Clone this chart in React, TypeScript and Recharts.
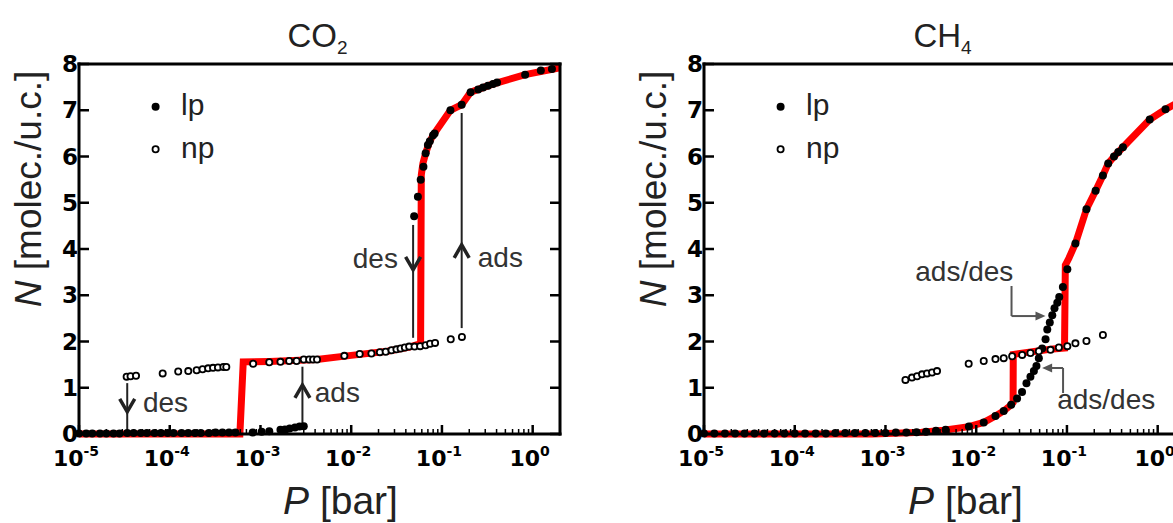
import React from 'react';
import {
  ComposedChart,
  Line,
  Scatter,
  XAxis,
  YAxis,
  Legend,
  ReferenceLine,
  ReferenceDot,
  Label,
} from 'recharts';

const FONT = '"Liberation Sans", Arial, Helvetica, sans-serif';
const TICK_FONT = '"DejaVu Sans", Verdana, sans-serif';

// axes
const xMajorTicks = [1e-5, 1e-4, 1e-3, 1e-2, 1e-1, 1];
const xExponents = ['-5', '-4', '-3', '-2', '-1', '0'];
const xMinorSteps = [2, 3, 4, 5, 6, 7, 8, 9];
const yTicks = [0, 1, 2, 3, 4, 5, 6, 7, 8];
const xDomain: [number, number] = [1e-5, 2];

// CO2 : [P (bar), N (molec./u.c.)]
const co2Lp: [number, number][] = [
  [1.0e-5, 0.01], [1.2e-5, 0.01], [1.4e-5, 0.01], [1.7e-5, 0.01], [2.0e-5, 0.01], [2.4e-5, 0.01],
  [2.8e-5, 0.01], [3.4e-5, 0.02], [4.0e-5, 0.02], [4.8e-5, 0.02], [5.6e-5, 0.02], [6.8e-5, 0.02],
  [8.0e-5, 0.02], [9.5e-5, 0.02], [1.1e-4, 0.02], [1.35e-4, 0.02], [1.6e-4, 0.02], [1.9e-4, 0.02],
  [2.2e-4, 0.02], [2.7e-4, 0.02], [3.2e-4, 0.03], [3.8e-4, 0.03], [4.5e-4, 0.03], [5.3e-4, 0.03],
  [8.2e-4, 0.03], [1.03e-3, 0.05], [1.25e-3, 0.06], [1.66e-3, 0.09], [1.86e-3, 0.1], [2.1e-3, 0.12],
  [2.4e-3, 0.14], [2.7e-3, 0.16], [3.0e-3, 0.17],
  [4.94e-2, 4.71], [5.43e-2, 5.13], [5.83e-2, 5.5], [6.25e-2, 5.78], [6.61e-2, 6.07], [7.0e-2, 6.25],
  [7.35e-2, 6.33], [7.98e-2, 6.46], [8.3e-2, 6.5], [0.124, 7.0], [0.165, 7.12], [0.207, 7.39],
  [0.251, 7.45], [0.284, 7.49], [0.322, 7.53], [0.366, 7.57], [0.405, 7.6], [0.826, 7.77],
  [1.23, 7.86], [1.63, 7.89],
];
const co2Np: [number, number][] = [
  [3.35e-5, 1.24], [3.7e-5, 1.25], [4.25e-5, 1.26], [8.36e-5, 1.31], [1.24e-4, 1.35], [1.6e-4, 1.36],
  [1.98e-4, 1.38], [2.3e-4, 1.4], [2.65e-4, 1.42], [3.0e-4, 1.43], [3.4e-4, 1.44], [3.9e-4, 1.45],
  [4.2e-4, 1.45], [8.3e-4, 1.52], [1.25e-3, 1.55], [1.66e-3, 1.56], [2.07e-3, 1.58], [2.5e-3, 1.58],
  [3.0e-3, 1.61], [3.44e-3, 1.61], [3.8e-3, 1.61], [4.2e-3, 1.61], [8.4e-3, 1.69], [1.24e-2, 1.73],
  [1.67e-2, 1.74], [2.07e-2, 1.77], [2.4e-2, 1.78], [2.78e-2, 1.81], [3.15e-2, 1.83], [3.5e-2, 1.85],
  [3.9e-2, 1.87], [4.35e-2, 1.89], [4.99e-2, 1.89], [5.75e-2, 1.9], [6.6e-2, 1.92], [7.4e-2, 1.95],
  [8.4e-2, 1.97], [0.125, 2.05], [0.166, 2.1],
];
const co2Red: [number, number][] = [
  [1e-5, 0], [5.93e-4, 0], [6.46e-4, 1.56], [1.26e-3, 1.57], [4.17e-3, 1.61], [1e-2, 1.7],
  [2.51e-2, 1.79], [4.37e-2, 1.88], [5.69e-2, 1.95], [5.82e-2, 2.0], [5.92e-2, 5.6], [6.17e-2, 5.85],
  [6.61e-2, 6.07], [7.24e-2, 6.3], [7.98e-2, 6.46], [0.124, 7.0], [0.165, 7.12], [0.207, 7.39],
  [0.355, 7.56], [0.826, 7.77], [2.0, 7.92],
];

// CH4
const ch4Lp: [number, number][] = [
  [1.0e-5, 0.01], [1.3e-5, 0.01], [1.7e-5, 0.01], [2.2e-5, 0.01], [2.8e-5, 0.01], [3.6e-5, 0.01],
  [4.6e-5, 0.01], [6.0e-5, 0.01], [7.7e-5, 0.01], [1.0e-4, 0.01], [1.3e-4, 0.01], [1.7e-4, 0.01],
  [2.2e-4, 0.01], [2.8e-4, 0.02], [3.6e-4, 0.02], [4.6e-4, 0.02], [6.0e-4, 0.02], [7.7e-4, 0.02],
  [1.0e-3, 0.02], [1.3e-3, 0.03], [1.7e-3, 0.03], [2.2e-3, 0.04], [2.8e-3, 0.05], [3.6e-3, 0.07],
  [4.6e-3, 0.09], [8.3e-3, 0.16], [1.21e-2, 0.25], [1.63e-2, 0.39], [2.01e-2, 0.5], [2.43e-2, 0.63],
  [2.82e-2, 0.77], [3.2e-2, 0.91], [3.58e-2, 1.1], [3.96e-2, 1.24], [4.32e-2, 1.36], [4.61e-2, 1.47],
  [4.9e-2, 1.64], [5.33e-2, 1.85], [5.81e-2, 2.05], [6.07e-2, 2.26], [6.47e-2, 2.41], [6.89e-2, 2.57],
  [7.29e-2, 2.72], [7.82e-2, 2.84], [8.22e-2, 2.96], [9.02e-2, 3.18], [0.101, 3.56], [0.124, 4.12],
  [0.164, 4.86], [0.207, 5.26], [0.249, 5.59], [0.285, 5.85], [0.33, 6.0], [0.368, 6.1],
  [0.414, 6.2], [0.817, 6.8], [1.22, 7.02], [1.78, 7.2],
];
const ch4Np: [number, number][] = [
  [1.66e-3, 1.17], [1.96e-3, 1.22], [2.23e-3, 1.25], [2.53e-3, 1.29], [2.87e-3, 1.31], [3.26e-3, 1.33],
  [3.7e-3, 1.36], [8.26e-3, 1.52], [1.21e-2, 1.58], [1.63e-2, 1.62], [2.01e-2, 1.64], [2.49e-2, 1.68],
  [3.21e-2, 1.71], [3.96e-2, 1.75], [4.9e-2, 1.79], [6.59e-2, 1.82], [8.15e-2, 1.87], [0.101, 1.9],
  [0.124, 1.96], [0.164, 2.01], [0.249, 2.14],
];
const ch4Red: [number, number][] = [
  [1e-5, 0], [7.1e-4, 0], [1.5e-3, 0.02], [2.5e-3, 0.04], [4.4e-3, 0.08], [8.3e-3, 0.16],
  [1.21e-2, 0.25], [1.63e-2, 0.39], [2.01e-2, 0.5], [2.43e-2, 0.63], [2.55e-2, 0.68], [2.56e-2, 1.72],
  [3.5e-2, 1.76], [5e-2, 1.8], [7e-2, 1.84], [9.4e-2, 1.86], [9.6e-2, 3.65], [0.105, 3.8],
  [0.124, 4.12], [0.164, 4.86], [0.207, 5.26], [0.249, 5.59], [0.285, 5.85], [0.33, 6.0],
  [0.414, 6.2], [0.817, 6.8], [1.22, 7.02], [2.0, 7.25],
];

// annotations
type Arrow = { p: number; from: number; to: number; head: number; up: boolean };
type Note = { p: number; n: number; text: string };
type Elbow = { p1: number; n1: number; p2: number; n2: number; p3: number; dir: 1 | -1 };

const co2Arrows: Arrow[] = [
  { p: 3.4e-5, from: 1.1, to: 0.09, head: 0.48, up: false },
  { p: 2.9e-3, from: 0.13, to: 1.455, head: 1.06, up: true },
  { p: 4.81e-2, from: 4.52, to: 2.08, head: 3.55, up: false },
  { p: 0.165, from: 2.29, to: 6.94, head: 4.09, up: true },
];
const co2Notes: Note[] = [
  { p: 5.07e-5, n: 0.476, text: 'des' },
  { p: 3.97e-3, n: 0.69, text: 'ads' },
  { p: 1.04e-2, n: 3.59, text: 'des' },
  { p: 0.248, n: 3.61, text: 'ads' },
];
const ch4Notes: Note[] = [
  { p: 2.13e-3, n: 3.31, text: 'ads/des' },
  { p: 7.8e-2, n: 0.55, text: 'ads/des' },
];
const ch4Elbows: Elbow[] = [
  { p1: 2.45e-2, n1: 3.2, p2: 2.45e-2, n2: 2.55, p3: 5.8e-2, dir: 1 },
  { p1: 9.06e-2, n1: 0.886, p2: 9.06e-2, n2: 1.427, p3: 5.33e-2, dir: -1 },
];

const legendItems = [
  { name: 'lp', filled: true },
  { name: 'np', filled: false },
];

const toPts = (arr: [number, number][]) => arr.map(([p, n]) => ({ p, n }));
const allXTicks = [
  ...xMajorTicks,
  ...xMajorTicks.slice(0, -1).flatMap((m) => xMinorSteps.map((s) => s * m)),
].sort((a, b) => a - b);
const isMajor = (v: number) => Math.abs(Math.log10(v) - Math.round(Math.log10(v))) < 1e-6;

function BottomTick(props: any) {
  const { x, y, payload } = props;
  const v = payload.value as number;
  const major = isMajor(v);
  const idx = xMajorTicks.findIndex((t) => Math.abs(t - v) / t < 1e-6);
  return (
    <g>
      <line x1={x} x2={x} y1={y} y2={y - (major ? 9 : 5)} stroke="#000" strokeWidth={major ? 2.5 : 1.5} />
      {major && (
        <text x={x - 3} y={y + 32} textAnchor="middle" fontFamily={TICK_FONT} fontWeight="bold" fontSize={22} fill="#000">
          10
          <tspan fontSize={14} dy={-10}>
            {xExponents[idx]}
          </tspan>
        </text>
      )}
    </g>
  );
}

function TopTick(props: any) {
  const { x, y, payload } = props;
  const major = isMajor(payload.value);
  return <line x1={x} x2={x} y1={y} y2={y + (major ? 10 : 5)} stroke="#000" strokeWidth={major ? 2.5 : 1.5} />;
}

function LeftTick(props: any) {
  const { x, y, payload } = props;
  return (
    <g>
      <line x1={x} x2={x + 10} y1={y} y2={y} stroke="#000" strokeWidth={2.5} />
      <text x={x - 1} y={y + 8} textAnchor="end" fontFamily={TICK_FONT} fontWeight="bold" fontSize={23} fill="#000">
        {payload.value}
      </text>
    </g>
  );
}

function RightTick(props: any) {
  const { x, y } = props;
  return <line x1={x} x2={x - 10} y1={y} y2={y} stroke="#000" strokeWidth={2.5} />;
}

const lpDot = (props: any) => <circle cx={props.cx} cy={props.cy} r={4} fill="#000" />;
const npDot = (props: any) => (
  <circle cx={props.cx} cy={props.cy} r={3.1} fill="#fff" stroke="#000" strokeWidth={1.8} />
);

const chevron = (up: boolean) => (props: any) => {
  const { cx, cy } = props;
  const d = up ? -1 : 1;
  return (
    <path
      d={`M${cx - 7.5},${cy - d * 13} L${cx},${cy} L${cx + 7.5},${cy - d * 13}`}
      fill="none"
      stroke="#222"
      strokeWidth={3.5}
    />
  );
};

const noteText = (text: string) => (props: any) => (
  <text x={props.cx} y={props.cy} fontFamily={FONT} fontSize={28} fill="#333">
    {text}
  </text>
);

const grayHead = (dir: 1 | -1) => (props: any) => {
  const { x1, y1, x2, y2 } = props;
  return (
    <g>
      <line x1={x1} y1={y1} x2={x2 - dir * 8} y2={y2} stroke="#555" strokeWidth={2} />
      <path d={`M${x2},${y2} L${x2 - dir * 10},${y2 - 4.5} L${x2 - dir * 10},${y2 + 4.5} Z`} fill="#555" />
    </g>
  );
};

const renderLegend = () => (
  <svg width={110} height={90} style={{ display: 'block' }}>
    {legendItems.map((it, i) => (
      <g key={it.name}>
        {it.filled ? (
          <circle cx={15.6} cy={21.7 + i * 42.6} r={4} fill="#000" />
        ) : (
          <circle cx={15.6} cy={21.7 + i * 42.6} r={3.1} fill="#fff" stroke="#000" strokeWidth={1.8} />
        )}
        <text x={41} y={30 + i * 42.6} fontFamily={FONT} fontSize={30} fill="#222">
          {it.name}
        </text>
      </g>
    ))}
  </svg>
);

type PanelProps = {
  title: string;
  sub: string;
  lp: [number, number][];
  np: [number, number][];
  red: [number, number][];
  arrows: Arrow[];
  notes: Note[];
  elbows: Elbow[];
};

const frame = { stroke: '#000', strokeWidth: 3, strokeLinecap: 'square' as const };

function Panel({ title, sub, lp, np, red, arrows, notes, elbows }: PanelProps) {
  const ids = { xAxisId: 'b', yAxisId: 'l' };
  return (
    <ComposedChart width={626} height={523} margin={{ top: 63, right: 65, bottom: 88, left: 78 }}>
      <Line
        {...ids}
        data={toPts(red)}
        dataKey="n"
        type="linear"
        stroke="#ff0000"
        strokeWidth={7}
        strokeLinejoin="miter"
        dot={false}
        activeDot={false}
        legendType="none"
        isAnimationActive={false}
      />
      <Scatter {...ids} data={toPts(lp)} shape={lpDot} legendType="none" isAnimationActive={false} />
      <Scatter {...ids} data={toPts(np)} shape={npDot} legendType="none" isAnimationActive={false} />

      {arrows.map((a, i) => (
        <ReferenceLine
          key={`al${i}`}
          {...ids}
          segment={[{ x: a.p, y: a.from }, { x: a.p, y: a.to }]}
          stroke="#222"
          strokeWidth={2}
        />
      ))}
      {arrows.map((a, i) => (
        <ReferenceDot key={`ah${i}`} {...ids} x={a.p} y={a.head} r={1} shape={chevron(a.up)} />
      ))}
      {elbows.map((e, i) => (
        <ReferenceLine
          key={`ev${i}`}
          {...ids}
          segment={[{ x: e.p1, y: e.n1 }, { x: e.p2, y: e.n2 }]}
          stroke="#555"
          strokeWidth={2}
        />
      ))}
      {elbows.map((e, i) => (
        <ReferenceLine
          key={`eh${i}`}
          {...ids}
          segment={[{ x: e.p2, y: e.n2 }, { x: e.p3, y: e.n2 }]}
          shape={grayHead(e.dir)}
        />
      ))}
      {notes.map((n, i) => (
        <ReferenceDot key={`nt${i}`} {...ids} x={n.p} y={n.n} r={1} shape={noteText(n.text)} />
      ))}

      <XAxis
        xAxisId="b"
        dataKey="p"
        type="number"
        scale="log"
        domain={xDomain}
        ticks={allXTicks}
        interval={0}
        height={1}
        tickSize={0}
        tickMargin={0}
        tickLine={false}
        tick={BottomTick}
        axisLine={frame}
      >
        <Label
          content={(p: any) => {
            const vb = p.viewBox;
            return (
              <text
                x={vb.x + vb.width / 2 + 21}
                y={vb.y + 80}
                textAnchor="middle"
                fontFamily={FONT}
                fontSize={39}
                fill="#222"
              >
                <tspan fontStyle="italic">P</tspan>
                {' [bar]'}
              </text>
            );
          }}
        />
      </XAxis>
      <XAxis
        xAxisId="t"
        orientation="top"
        type="number"
        scale="log"
        domain={xDomain}
        allowDataOverflow
        ticks={allXTicks}
        interval={0}
        height={1}
        tickSize={0}
        tickMargin={0}
        tickLine={false}
        tick={TopTick}
        axisLine={frame}
      >
        <Label
          content={(p: any) => {
            const vb = p.viewBox;
            return (
              <text x={vb.x + vb.width / 2 - 2} y={vb.y - 16} textAnchor="middle" fontFamily={FONT} fontSize={33} fill="#222">
                {title}
                <tspan fontSize={19} dy={7}>
                  {sub}
                </tspan>
              </text>
            );
          }}
        />
      </XAxis>
      <YAxis
        yAxisId="l"
        dataKey="n"
        type="number"
        domain={[0, 8]}
        ticks={yTicks}
        interval={0}
        width={1}
        tickSize={0}
        tickMargin={0}
        tickLine={false}
        tick={LeftTick}
        axisLine={frame}
      >
        <Label
          content={(p: any) => {
            const vb = p.viewBox;
            const cx = vb.x - 37;
            const cy = vb.y + 125;
            return (
              <text
                x={cx}
                y={cy}
                transform={`rotate(-90, ${cx}, ${cy})`}
                textAnchor="middle"
                fontFamily={FONT}
                fontSize={37}
                fill="#222"
              >
                <tspan fontStyle="italic">N</tspan>
                {' [molec./u.c.]'}
              </text>
            );
          }}
        />
      </YAxis>
      <YAxis
        yAxisId="r"
        orientation="right"
        type="number"
        domain={[0, 8]}
        allowDataOverflow
        ticks={yTicks}
        interval={0}
        width={1}
        tickSize={0}
        tickMargin={0}
        tickLine={false}
        tick={RightTick}
        axisLine={frame}
      />
      <Legend
        content={renderLegend}
        layout="vertical"
        align="center"
        verticalAlign="middle"
        wrapperStyle={{ left: 140, top: 85, width: 110, height: 90 }}
      />
    </ComposedChart>
  );
}

export default function App() {
  return (
    <div
      style={{
        position: 'fixed',
        left: 0,
        top: 0,
        width: 1173,
        height: 523,
        overflow: 'hidden',
        background: '#fff',
      }}
    >
      <div style={{ position: 'absolute', left: 0, top: 0 }}>
        <Panel title="CO" sub="2" lp={co2Lp} np={co2Np} red={co2Red} arrows={co2Arrows} notes={co2Notes} elbows={[]} />
      </div>
      <div style={{ position: 'absolute', left: 625, top: 0 }}>
        <Panel title="CH" sub="4" lp={ch4Lp} np={ch4Np} red={ch4Red} arrows={[]} notes={ch4Notes} elbows={ch4Elbows} />
      </div>
    </div>
  );
}
